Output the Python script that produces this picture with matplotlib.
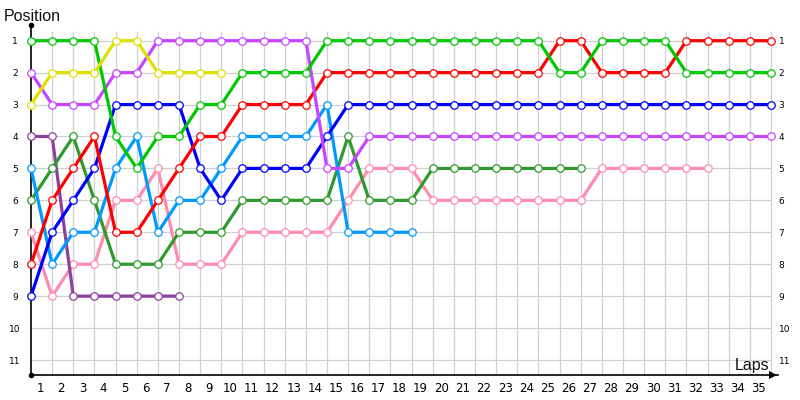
import matplotlib
matplotlib.use("Agg")
import matplotlib.pyplot as plt
import matplotlib.transforms as mtrans

# ---- data: position per lap, starting at lap 0 ----
green      = [1, 1, 1, 1, 4, 5, 4, 4, 3, 3, 2, 2, 2, 2, 1, 1, 1, 1, 1, 1, 1, 1, 1, 1, 1, 2, 2, 1, 1, 1, 1, 2, 2, 2, 2, 2]
red        = [8, 6, 5, 4, 7, 7, 6, 5, 4, 4, 3, 3, 3, 3, 2, 2, 2, 2, 2, 2, 2, 2, 2, 2, 2, 1, 1, 2, 2, 2, 2, 1, 1, 1, 1, 1]
blue       = [9, 7, 6, 5, 3, 3, 3, 3, 5, 6, 5, 5, 5, 5, 4, 3, 3, 3, 3, 3, 3, 3, 3, 3, 3, 3, 3, 3, 3, 3, 3, 3, 3, 3, 3, 3]
violet     = [2, 3, 3, 3, 2, 2, 1, 1, 1, 1, 1, 1, 1, 1, 5, 5, 4, 4, 4, 4, 4, 4, 4, 4, 4, 4, 4, 4, 4, 4, 4, 4, 4, 4, 4, 4]
yellow     = [3, 2, 2, 2, 1, 1, 2, 2, 2, 2]
purple     = [4, 4, 9, 9, 9, 9, 9, 9]
dark_green = [6, 5, 4, 6, 8, 8, 8, 7, 7, 7, 6, 6, 6, 6, 6, 4, 6, 6, 6, 5, 5, 5, 5, 5, 5, 5, 5]
light_blue = [5, 8, 7, 7, 5, 4, 7, 6, 6, 5, 4, 4, 4, 4, 3, 7, 7, 7, 7]
pink       = [7, 9, 8, 8, 6, 6, 5, 8, 8, 8, 7, 7, 7, 7, 7, 6, 5, 5, 5, 6, 6, 6, 6, 6, 6, 6, 6, 5, 5, 5, 5, 5, 5]

laps = list(range(1, 36))
positions = list(range(1, 12))

series = [
    (pink, "#FF8CAF"),
    (purple, "#8E3FA0"),
    (dark_green, "#2E9A2E"),
    (light_blue, "#0099FF"),
    (blue, "#0000FF"),
    (red, "#FF0000"),
    (violet, "#C844FF"),
    (green, "#00C800"),
    (yellow, "#E0E000"),
]

W, H = 800, 400
fig = plt.figure(figsize=(8, 4), dpi=100)
ax = fig.add_axes([31 / W, (H - 375) / H, (778 - 31) / W, (375 - 25) / H])

px_per_lap = 740 / 35.0
px_per_pos = 319.3 / 10.0
xmax = (778 - 31) / px_per_lap
ytop = 1 - (40.7 - 25) / px_per_pos
ybot = 11 + (375 - 360) / px_per_pos
ax.set_xlim(0, xmax)
ax.set_ylim(ybot, ytop)

# grid
grid_top = 1 - (40.7 - 31) / px_per_pos
ax.vlines(laps, grid_top, ybot, colors="#D0D0D0", linewidth=0.9, zorder=0)
ax.hlines(positions, 0, laps[-1], colors="#D0D0D0", linewidth=0.9, zorder=0)

for data, color in series:
    xs = list(range(len(data)))
    ax.plot(xs, data, color=color, linewidth=2.3, marker="o", markersize=5.4,
            markerfacecolor="white", markeredgecolor=color, markeredgewidth=0.9,
            solid_joinstyle="round", zorder=3, clip_on=False)

# spines
for s in ["top", "right"]:
    ax.spines[s].set_visible(False)
for s in ["left", "bottom"]:
    ax.spines[s].set_color("black")
    ax.spines[s].set_linewidth(1.2)

# axis end markers
ax.plot([0], [ytop], marker="o", color="black", markersize=3, clip_on=False, zorder=5)
ax.plot([0], [ybot], marker="o", color="black", markersize=3, clip_on=False, zorder=5)
ax.plot([xmax - 0.25], [ybot], marker=">", color="black", markersize=6, clip_on=False, zorder=5,
        markeredgewidth=0)

# x ticks (labels centred between grid lines)
ax.set_xticks([k - 0.57 for k in laps])
ax.set_xticklabels([str(k) for k in laps], fontsize=8.5, family="DejaVu Sans")
ax.tick_params(axis="x", length=0, pad=5)

# y ticks on both sides
ax.set_yticks(positions)
ax.set_yticklabels([str(p) for p in positions], fontsize=6.5)
ax.tick_params(axis="y", length=0, pad=11.5, labelright=True, labelleft=True)
for t in ax.yaxis.get_major_ticks():
    t.label1.set_horizontalalignment("center")
    t.label2.set_horizontalalignment("left")
    t.label2.set_transform(t.label2.get_transform() +
                           mtrans.ScaledTranslation(-11.0 / 72, 0, fig.dpi_scale_trans))

fig.text(4 / W, (H - 21) / H, "Position", fontsize=11.5, family="Liberation Sans",
         ha="left", va="baseline", color="#111111")
fig.text(769 / W, (H - 370) / H, "Laps", fontsize=11.5, family="Liberation Sans",
         ha="right", va="baseline", color="#111111")

fig.savefig("out.png", dpi=100)
